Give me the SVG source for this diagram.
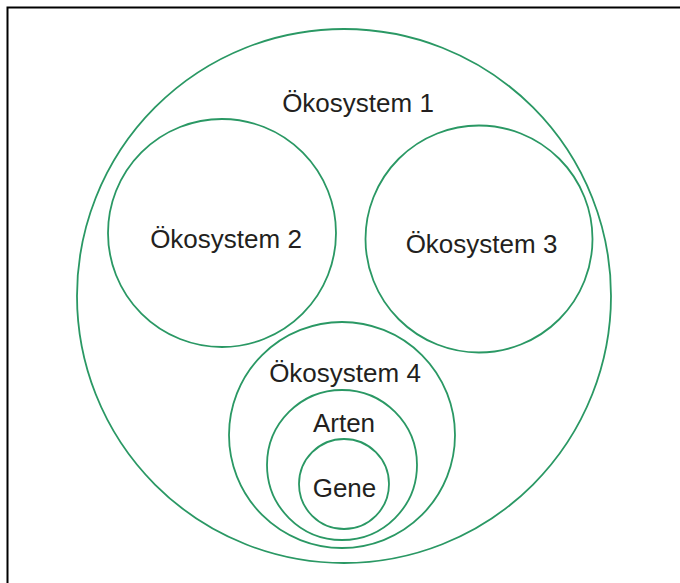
<svg xmlns="http://www.w3.org/2000/svg" width="680" height="583" viewBox="0 0 680 583">
<style>
.c{fill:none;stroke:#2a9864;stroke-width:1.8}
.t{font-family:"Liberation Sans",Arial,sans-serif;font-size:26px;fill:#231f20;text-anchor:middle}
</style>
<rect x="0" y="0" width="680" height="583" fill="#fff"/>
<rect x="7.5" y="7.5" width="700" height="600" fill="none" stroke="#000" stroke-width="2"/>
<g id="oekosystem1"><circle class="c" cx="344" cy="296" r="267"/><text class="t" x="358" y="112">Ökosystem 1</text></g>
<g id="oekosystem2"><circle class="c" cx="222" cy="233" r="114"/><text class="t" x="226" y="248">Ökosystem 2</text></g>
<g id="oekosystem3"><circle class="c" cx="479" cy="239" r="113.5"/><text class="t" x="481.5" y="253">Ökosystem 3</text></g>
<g id="oekosystem4"><circle class="c" cx="342" cy="435" r="113"/><text class="t" x="345" y="382">Ökosystem 4</text></g>
<g id="arten"><circle class="c" cx="342" cy="465" r="75"/><text class="t" x="344" y="432">Arten</text></g>
<g id="gene"><circle class="c" cx="344" cy="484" r="45"/><text class="t" x="344.5" y="497">Gene</text></g>
<g id="connectors"/>
</svg>
